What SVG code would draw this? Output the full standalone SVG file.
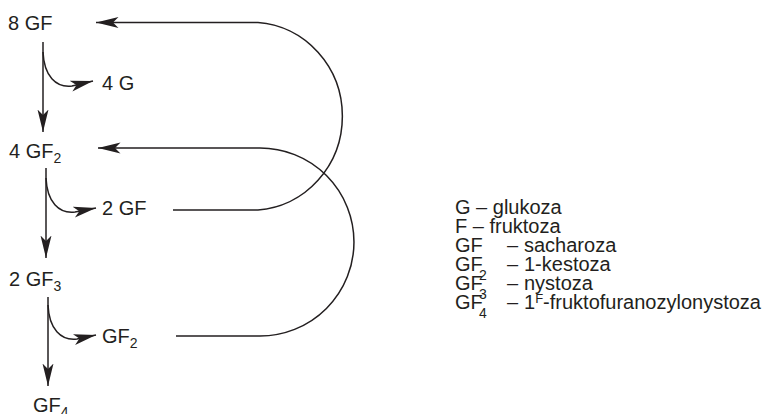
<svg xmlns="http://www.w3.org/2000/svg" width="763" height="414" viewBox="0 0 763 414">
  <style>
    text { font-family: "Liberation Sans", Arial, Helvetica, sans-serif; font-size: 20px; fill: #231f20; }
    .sub { font-size: 14px; }
    .sup { font-size: 13px; }
    .wire { fill: none; stroke: #231f20; stroke-width: 1.5; }
    .arrow { marker-end: url(#head); }
  </style>
  <defs>
    <!-- slender barbed arrowhead, tip at the path end -->
    <marker id="head" markerUnits="userSpaceOnUse" viewBox="0 0 23 12" markerWidth="23" markerHeight="12" refX="22.5" refY="6" orient="auto">
      <path d="M22.5,6 L0,0.5 L5.5,6 L0,11.5 Z" fill="#231f20"/>
    </marker>
  </defs>

  <!-- reaction chain -->
  <g id="n-8GF"><text x="8" y="30">8 GF</text></g>
  <g id="n-4G"><text x="102" y="90">4 G</text></g>
  <g id="n-4GF2"><text x="9" y="158">4 GF<tspan class="sub" dy="5">2</tspan></text></g>
  <g id="n-2GF"><text x="102" y="215">2 GF</text></g>
  <g id="n-2GF3"><text x="9" y="286">2 GF<tspan class="sub" dy="5">3</tspan></text></g>
  <g id="n-GF2"><text x="102" y="343">GF<tspan class="sub" dy="5">2</tspan></text></g>
  <g id="n-GF4"><text x="33" y="412">GF<tspan class="sub" dy="5">4</tspan></text></g>

  <g id="connectors">
    <!-- main steps -->
    <path class="wire arrow" d="M43,42 L43,132"/>
    <path class="wire arrow" d="M46,168 L46,258"/>
    <path class="wire arrow" d="M48,297 L48,386"/>
    <!-- side products -->
    <path class="wire arrow" d="M43,52 C44,76 56,88 72,86 L93,81"/>
    <path class="wire arrow" d="M46,178 C47,202 59,214 75,212 L96,208"/>
    <path class="wire arrow" d="M48,305 C49,329 61,341 77,339 L96,335"/>
    <!-- recycle loops -->
    <path class="wire arrow" d="M173,210 L258,210 A91,94 0 0 0 258,22.5 L96,22.5"/>
    <path class="wire arrow" d="M176,336 L260,336 A94,94 0 0 0 260,148 L98,148"/>
  </g>

  <!-- legend -->
  <g id="legend">
    <text x="455" y="214">G – glukoza</text>
    <text x="455" y="233">F – fruktoza</text>
    <text x="455" y="252">GF<tspan x="507">–</tspan><tspan x="524">sacharoza</tspan></text>
    <text x="455" y="271">GF<tspan class="sub" x="479" dy="9">2</tspan><tspan x="507" dy="-9">–</tspan><tspan x="524">1-kestoza</tspan></text>
    <text x="455" y="290">GF<tspan class="sub" x="479" dy="9">3</tspan><tspan x="507" dy="-9">–</tspan><tspan x="524">nystoza</tspan></text>
    <text x="455" y="309">GF<tspan class="sub" x="479" dy="9">4</tspan><tspan x="507" dy="-9">–</tspan><tspan x="524">1<tspan class="sup" dy="-6">F</tspan><tspan dy="6">-fruktofuranozylonystoza</tspan></tspan></text>
  </g>
</svg>
